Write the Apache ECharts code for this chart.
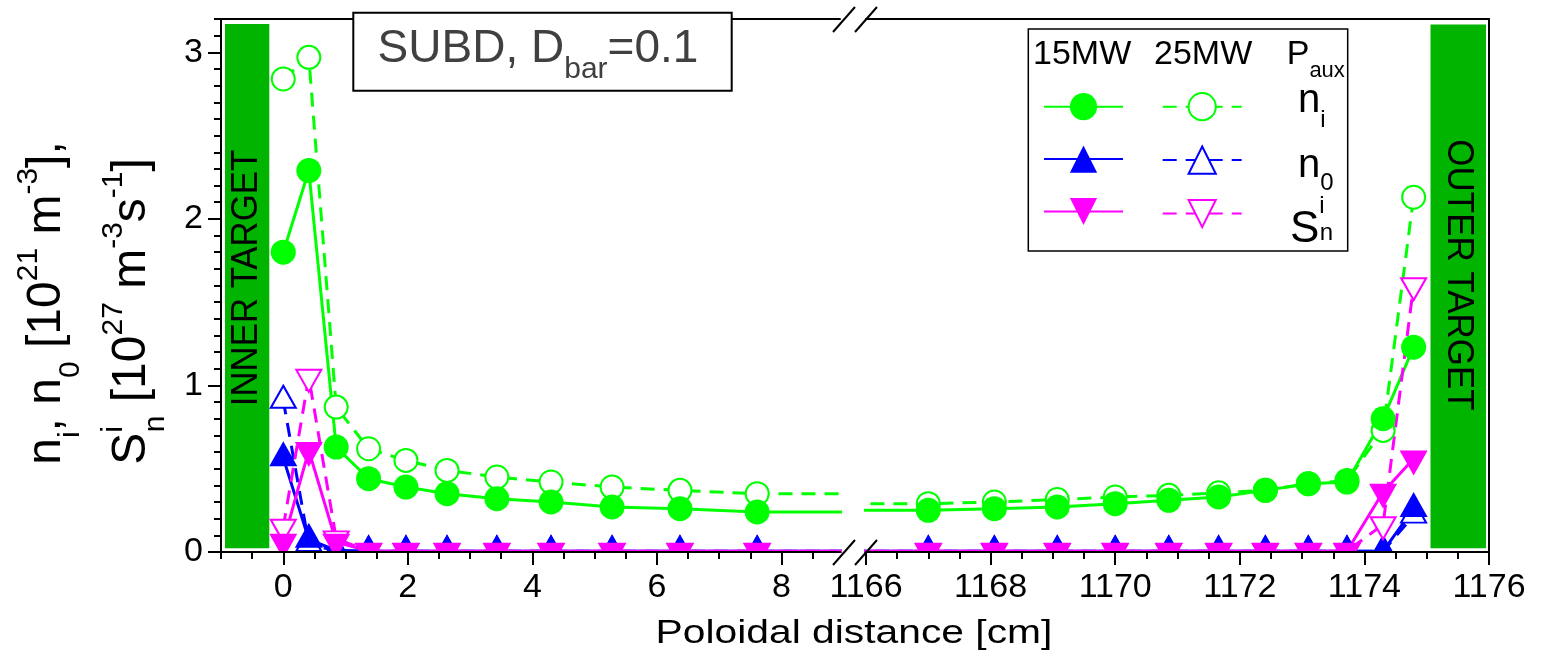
<!DOCTYPE html>
<html><head><meta charset="utf-8">
<script src="https://cdn.jsdelivr.net/npm/echarts@6/dist/echarts.min.js"></script>
<style>html,body{margin:0;padding:0;background:#fff}#c{width:1557px;height:656px}</style>
</head><body><div id="c"></div>
<script>
// ---------- data ----------
const xPos = [0, 0.41, 0.85, 1.37, 1.97, 2.63, 3.43, 4.30, 5.28, 6.37, 7.61,
  1167.0, 1168.06, 1169.07, 1170.0, 1170.86, 1171.66, 1172.41, 1173.10, 1173.72, 1174.30, 1174.79];
const ni15 = [1.80, 2.29, 0.63, 0.44, 0.39, 0.35, 0.32, 0.30, 0.27, 0.26, 0.24,
  0.25, 0.26, 0.27, 0.29, 0.31, 0.33, 0.37, 0.41, 0.42, 0.80, 1.23];
const ni25 = [2.84, 2.97, 0.87, 0.62, 0.55, 0.49, 0.45, 0.42, 0.39, 0.37, 0.35,
  0.29, 0.30, 0.315, 0.33, 0.34, 0.355, 0.37, 0.41, 0.43, 0.73, 2.13];
const n015 = [0.565, 0.075, 0.01, 0.005, 0.005, 0.005, 0.005, 0.005, 0.005, 0.005, 0.005,
  0.005, 0.005, 0.005, 0.005, 0.005, 0.005, 0.005, 0.005, 0.005, 0.005, 0.26];
const n025 = [0.91, 0.05, 0.005, 0.005, 0.005, 0.005, 0.005, 0.005, 0.005, 0.005, 0.005,
  0.005, 0.005, 0.005, 0.005, 0.005, 0.005, 0.005, 0.005, 0.005, 0.005, 0.22];
const sn15 = [0.06, 0.61, 0.06, 0.005, 0.005, 0.005, 0.005, 0.005, 0.005, 0.005, 0.005,
  0.005, 0.005, 0.005, 0.005, 0.005, 0.005, 0.005, 0.005, 0.005, 0.36, 0.56];
const sn25 = [0.15, 1.05, 0.08, 0.005, 0.005, 0.005, 0.005, 0.005, 0.005, 0.005, 0.005,
  0.005, 0.005, 0.005, 0.005, 0.005, 0.005, 0.005, 0.005, 0.005, 0.165, 1.60];

const xTicksLeft = [0, 2, 4, 6, 8];
const xTicksRight = [1166, 1168, 1170, 1172, 1174, 1176];
const yTicks = [0, 1, 2, 3];

// ---------- helpers ----------
const FONT = "'Liberation Sans', Arial, Helvetica, sans-serif";
const GREEN = '#00ff00', BLUE = '#0000ff', MAG = '#ff00ff', BAR = '#00b400';
const minorLeft = []; for (let k = 0; k <= 19; k++) minorLeft.push(-1 + k * 0.5);
const minorRight = []; for (let k = 0; k <= 20; k++) minorRight.push(1166 + k * 0.5);
const minorY = []; for (let k = 0; k <= 32; k++) minorY.push(k / 10);

const pairs = v => xPos.map((x, i) => [x, v[i]]);

// triangles are anchored on their centroid (offset = height / 6)
const defs = [
  {name: 'ni 25MW', vals: ni25, color: GREEN, symbol: 'emptyCircle', size: 23, rot: 0, off: 0, dash: true},
  {name: 'ni 15MW', vals: ni15, color: GREEN, symbol: 'circle', size: 25, rot: 0, off: 0, dash: false},
  {name: 'n0 25MW', vals: n025, color: BLUE, symbol: 'emptyTriangle', size: [25, 22], rot: 0, off: -3.7, dash: true},
  {name: 'n0 15MW', vals: n015, color: BLUE, symbol: 'triangle', size: [28, 25], rot: 0, off: -4.2, dash: false},
  {name: 'Sn 25MW', vals: sn25, color: MAG, symbol: 'emptyTriangle', size: [25, 22], rot: 180, off: 3.7, dash: true},
  {name: 'Sn 15MW', vals: sn15, color: MAG, symbol: 'triangle', size: [28, 25], rot: 180, off: 4.2, dash: false}
];

const series = [];
[[0, 0], [3, 2]].forEach(([xi, yi]) => {
  defs.forEach(d => {
    const empty = d.symbol.indexOf('empty') === 0;
    series.push({
      type: 'line', name: d.name, xAxisIndex: xi, yAxisIndex: yi,
      data: pairs(d.vals), clip: true, z: 2,
      symbol: d.symbol, symbolSize: d.size, symbolRotate: d.rot, symbolOffset: [0, d.off],
      showAllSymbol: true,
      lineStyle: {color: d.color, width: 3, type: d.dash ? [14, 9] : 'solid'},
      itemStyle: {color: d.color, borderColor: d.color, borderWidth: empty ? 3.5 : 0},
      emphasis: {disabled: true}
    });
  });
});

const lblX = {fontSize: 34, color: '#000', fontFamily: FONT, margin: 19, formatter: v => String(v)};
const axLine = {show: true, onZero: false, lineStyle: {color: '#000', width: 2}};
const noLine = {show: false, onZero: false};
function xAx(grid, min, max, major, minor) {
  return [
    {gridIndex: grid, type: 'value', min, max, position: 'bottom', z: 10,
      axisLine: axLine, splitLine: {show: false},
      axisTick: {show: true, customValues: major, length: 13, lineStyle: {color: '#000', width: 2}},
      axisLabel: Object.assign({customValues: major}, lblX)},
    {gridIndex: grid, type: 'value', min, max, position: 'bottom', z: 10,
      axisLine: noLine, splitLine: {show: false}, axisLabel: {show: false},
      axisTick: {show: true, customValues: minor, length: 7, lineStyle: {color: '#000', width: 2}}},
    {gridIndex: grid, type: 'value', min, max, position: 'top', z: 10,
      axisLine: axLine, splitLine: {show: false}, axisLabel: {show: false}, axisTick: {show: false}}
  ];
}

const legendBase = {
  orient: 'vertical', top: 89.7, itemWidth: 79, itemHeight: 34, itemGap: 21.8, padding: 0,
  formatter: () => '', textStyle: {fontSize: 1}, selectedMode: false, z: 6
};

function txt(x, y, text, size, extra) {
  return Object.assign({type: 'text', x, y, z: 7,
    style: {text, fontSize: size, fontFamily: FONT, fill: '#000', align: 'left', verticalAlign: 'middle'}}, extra || {});
}
const tk = (size, lh, va, extra) => Object.assign({fontSize: size, lineHeight: lh, fontFamily: FONT, fill: '#000', align: 'left', verticalAlign: va}, extra || {});

const slash = (cx, cy) => ({type: 'line', z: 20, shape: {x1: cx - 11, y1: cy + 13, x2: cx + 11, y2: cy - 12},
  style: {stroke: '#000', lineWidth: 2}});

const option = {
  animation: false,
  backgroundColor: '#fff',
  grid: [
    {left: 221, top: 19, width: 619, height: 533},
    {left: 866, top: 19, width: 623, height: 533}
  ],
  xAxis: [].concat(xAx(0, -1, 8.94, xTicksLeft, minorLeft), xAx(1, 1166, 1176, xTicksRight, minorRight)),
  yAxis: [
    {gridIndex: 0, type: 'value', min: 0, max: 3.2, position: 'left', z: 10,
      axisLine: axLine, splitLine: {show: false},
      axisTick: {show: true, customValues: yTicks, length: 13, lineStyle: {color: '#000', width: 2}},
      axisLabel: {customValues: yTicks, fontSize: 34, color: '#000', fontFamily: FONT, margin: 18, formatter: v => String(v)}},
    {gridIndex: 0, type: 'value', min: 0, max: 3.2, position: 'left', z: 10,
      axisLine: noLine, splitLine: {show: false}, axisLabel: {show: false},
      axisTick: {show: true, customValues: minorY, length: 7, lineStyle: {color: '#000', width: 2}}},
    {gridIndex: 1, type: 'value', min: 0, max: 3.2, position: 'right', z: 10,
      axisLine: axLine, splitLine: {show: false}, axisLabel: {show: false}, axisTick: {show: false}}
  ],
  legend: [
    Object.assign({left: 1043, data: ['ni 15MW', 'n0 15MW', 'Sn 15MW']}, legendBase),
    Object.assign({left: 1161.7, data: ['ni 25MW', 'n0 25MW', 'Sn 25MW']}, legendBase)
  ],
  series,
  graphic: [
    // target plates
    {type: 'rect', z: 1, shape: {x: 225, y: 24, width: 44.3, height: 524.3}, style: {fill: BAR}},
    {type: 'rect', z: 1, shape: {x: 1430.5, y: 24.5, width: 55.5, height: 523.8}, style: {fill: BAR}},
    {type: 'text', z: 1, x: 247, y: 278, rotation: Math.PI / 2, scaleX: 0.94,
      style: {text: 'INNER TARGET', fontSize: 37, fontFamily: FONT, fill: '#000', align: 'center', verticalAlign: 'middle'}},
    {type: 'text', z: 1, x: 1458, y: 275, rotation: -Math.PI / 2, scaleX: 0.945,
      style: {text: 'OUTER TARGET', fontSize: 37, fontFamily: FONT, fill: '#000', align: 'center', verticalAlign: 'middle'}},
    // clip markers below the axis
    {type: 'rect', z: 5, shape: {x: 222, y: 553, width: 1266, height: 16}, style: {fill: '#fff'}},
    // axis break marks
    slash(844, 552), slash(866, 552), slash(844, 19), slash(866, 19),
    // title box
    {type: 'rect', z: 20, shape: {x: 353.3, y: 12.7, width: 378.4, height: 78}, style: {fill: '#fff', stroke: '#000', lineWidth: 2}},
    {type: 'text', z: 21, x: 538, y: 49.1,
      style: {text: '{a|SUBD, D}{b|bar}{a|=0.1}', align: 'center', verticalAlign: 'middle', fontFamily: FONT,
        rich: {a: tk(46, 71, 'middle', {fill: '#404040'}), b: tk(30, 20, 'bottom', {fill: '#404040'})}}},
    // legend box
    {type: 'rect', z: 3, shape: {x: 1028.3, y: 29, width: 319.4, height: 222}, style: {fill: '#fff', stroke: '#000', lineWidth: 1.5}},
    txt(1033, 54.9, '15MW', 34),
    txt(1154, 54.9, '25MW', 34),
    {type: 'text', z: 7, x: 1286.7, y: 54.9,
      style: {text: '{m|P}{s|aux}', align: 'left', verticalAlign: 'middle', fontFamily: FONT,
        rich: {m: tk(34, 53.6, 'middle'), s: tk(22, 20, 'bottom')}}},
    {type: 'text', z: 7, x: 1298, y: 101.1,
      style: {text: '{m|n}{s|i}', align: 'left', verticalAlign: 'middle', fontFamily: FONT,
        rich: {m: tk(40, 63.2, 'middle'), s: tk(24, 20, 'bottom')}}},
    {type: 'text', z: 7, x: 1298, y: 166.1,
      style: {text: '{m|n}{s|0}', align: 'left', verticalAlign: 'middle', fontFamily: FONT,
        rich: {m: tk(40, 59.2, 'middle'), s: tk(24, 20, 'bottom')}}},
    {type: 'text', z: 7, x: 1290, y: 229.8,
      style: {text: '{m|S}{p|i}{s|n}', align: 'left', verticalAlign: 'middle', fontFamily: FONT,
        rich: {m: tk(44, 70.2, 'middle'), p: tk(24, 20, 'top', {width: 0.5}), s: tk(24, 20, 'bottom', {padding: [0, 0, 19.2, 0]})}}},
    // y axis title
    {type: 'text', z: 7, x: 89, y: 303, rotation: Math.PI / 2,
      style: {text: '{m|n}{sb|i}{m|, n}{sb|0}{m| [10}{sp|21}{m| m}{sp|-3}{m|],}\n{m|S}{sz|i}{sb|n}{m| [10}{sp|27}{m| m}{sp|-3}{m|s}{sp|-1}{m|]}',
        align: 'center', verticalAlign: 'middle', fontFamily: FONT,
        rich: {
          m: tk(48, 85, 'middle'),
          sp: tk(30, 40, 'top', {padding: [9.5, 0, 0, 0]}),
          sz: tk(30, 40, 'top', {padding: [9.5, 0, 0, 0], width: 0.5}),
          sb: tk(30, 40, 'bottom', {padding: [0, 0, 3.3, 0]})
        }}},
    // x axis title
    {type: 'text', z: 7, x: 854, y: 633.2, scaleX: 1.2,
      style: {text: 'Poloidal distance [cm]', fontSize: 34, fontFamily: FONT, fill: '#000', align: 'center', verticalAlign: 'middle'}}
  ]
};

const chart = echarts.init(document.getElementById('c'), null, {renderer: 'canvas'});
chart.setOption(option);
</script>
</body></html>
